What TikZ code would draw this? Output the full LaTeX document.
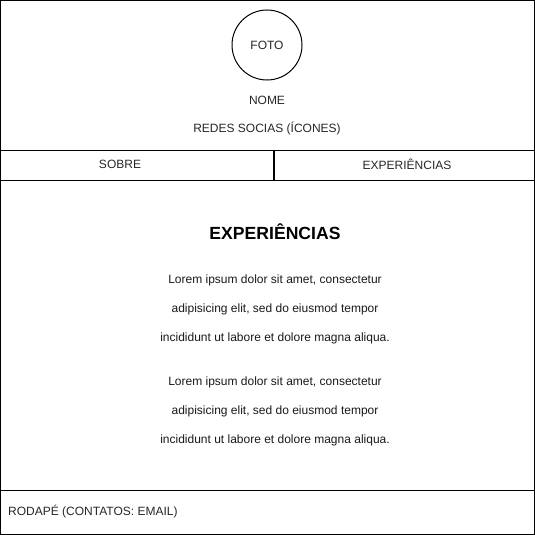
\documentclass[tikz,border=0pt]{standalone}
\usepackage{fontspec}
\setmainfont{Liberation Sans}
\begin{document}
\begin{tikzpicture}[x=1pt,y=-1pt,
  frame/.style={draw=black,line width=1pt},
  lbl/.style={inner sep=0pt,font=\fontsize{12}{14}\selectfont,text=black!85},
  lorem/.style={inner sep=0pt,font=\fontsize{12}{14}\selectfont,text=black!90},
  title/.style={inner sep=0pt,font=\bfseries\fontsize{17.6}{20}\selectfont}]
\useasboundingbox (0,0) rectangle (535,535);
% page sections
\draw[frame] (0.5,0.5) rectangle (534.5,150.5);
\draw[frame] (0.5,150.5) rectangle (273.5,180.5);
\draw[frame] (274,150.5) rectangle (534.5,180.5);
\draw[frame] (0.5,180.5) rectangle (534.5,490.5);
\draw[frame] (0.5,490.5) rectangle (534.5,534.5);
% header
\node[circle,draw=black,line width=1pt,minimum size=70pt,inner sep=0pt,lbl] (foto) at (267,45) {FOTO};
\node[lbl] (nome) at (267,100) {NOME};
\node[lbl] (redes) at (267,129) {REDES SOCIAS (ÍCONES)};
% navigation
\node[lbl] (sobre) at (120,164.5) {SOBRE};
\node[lbl] (exp) at (407,164.5) {EXPERIÊNCIAS};
% content
\node[title] (head) at (275,232) {EXPERIÊNCIAS};
\node[lorem] (l1) at (275,280) {Lorem ipsum dolor sit amet, consectetur};
\node[lorem] (l2) at (275,309) {adipisicing elit, sed do eiusmod tempor};
\node[lorem] (l3) at (275,338) {incididunt ut labore et dolore magna aliqua.};
\node[lorem] (l4) at (275,382) {Lorem ipsum dolor sit amet, consectetur};
\node[lorem] (l5) at (275,411) {adipisicing elit, sed do eiusmod tempor};
\node[lorem] (l6) at (275,440) {incididunt ut labore et dolore magna aliqua.};
% footer
\node[lbl,anchor=west] (rodape) at (8,512) {RODAPÉ (CONTATOS: EMAIL)};
\end{tikzpicture}
\end{document}
